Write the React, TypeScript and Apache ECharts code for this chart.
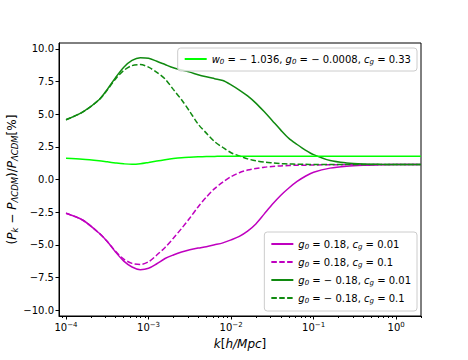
import React, { useEffect, useRef } from "react";
import * as echarts from "echarts";

// log10(k) sample positions
const logK = [-4, -3.8, -3.6, -3.5, -3.4, -3.3, -3.2, -3.1, -3.0, -2.9, -2.8, -2.7, -2.6, -2.5, -2.4, -2.3, -2.2, -2.1, -2.0, -1.9, -1.8, -1.7, -1.6, -1.5, -1.4, -1.3, -1.2, -1.1, -1.0, -0.8, -0.6, -0.4, -0.2, 0, 0.3];

const w0Line = [1.62, 1.55, 1.43, 1.35, 1.27, 1.2, 1.16, 1.2, 1.3, 1.41, 1.51, 1.6, 1.67, 1.71, 1.74, 1.76, 1.77, 1.78, 1.78, 1.78, 1.78, 1.78, 1.78, 1.78, 1.78, 1.78, 1.78, 1.78, 1.78, 1.78, 1.78, 1.78, 1.78, 1.78, 1.78];
const gPos001 = [-2.59, -3.1, -4.1, -4.75, -5.55, -6.25, -6.7, -6.9, -6.8, -6.45, -6.05, -5.78, -5.55, -5.38, -5.25, -5.14, -5.0, -4.85, -4.62, -4.35, -3.95, -3.4, -2.65, -1.9, -1.22, -0.65, -0.15, 0.25, 0.55, 0.87, 1.02, 1.09, 1.12, 1.14, 1.14];
const gPos01 = [-2.59, -3.1, -4.1, -4.75, -5.5, -6.1, -6.42, -6.5, -6.3, -5.78, -5.2, -4.5, -3.75, -2.95, -2.1, -1.35, -0.7, -0.2, 0.22, 0.52, 0.72, 0.84, 0.94, 1.0, 1.04, 1.07, 1.09, 1.1, 1.11, 1.13, 1.14, 1.14, 1.14, 1.14, 1.14];
const gNeg001 = [4.57, 5.15, 6.1, 6.9, 7.8, 8.6, 9.12, 9.32, 9.28, 9.05, 8.8, 8.55, 8.38, 8.22, 8.02, 7.86, 7.72, 7.58, 7.25, 6.85, 6.4, 5.85, 5.2, 4.5, 3.8, 3.15, 2.68, 2.25, 1.9, 1.45, 1.27, 1.19, 1.16, 1.15, 1.14];
const gNeg01 = [4.57, 5.15, 6.1, 6.85, 7.7, 8.35, 8.72, 8.8, 8.6, 8.2, 7.7, 6.9, 6.1, 5.2, 4.25, 3.55, 2.9, 2.45, 2.05, 1.8, 1.58, 1.43, 1.33, 1.27, 1.22, 1.19, 1.17, 1.16, 1.15, 1.14, 1.14, 1.14, 1.14, 1.14, 1.14];

const yTicks = [-10, -7.5, -5, -2.5, 0, 2.5, 5, 7.5, 10];
const xMajorTicks = [1e-4, 1e-3, 1e-2, 1e-1, 1];
const xMinorTicks: number[] = [];
for (let e = -4; e <= 0; e++) {
  for (let m = 2; m <= 9; m++) {
    const v = m * Math.pow(10, e);
    if (v <= 2) xMinorTicks.push(v);
  }
}
xMinorTicks.push(9e-5);

const legendText: Record<string, string> = {
  w0: "{i|w}{sub|0}{t| = − 1.036, }{i|g}{sub|0}{t| = − 0.0008, }{i|c}{sub|g}{t| = 0.33}",
  gp001: "{i|g}{sub|0}{t| = 0.18, }{i|c}{sub|g}{t| = 0.01}",
  gp01: "{i|g}{sub|0}{t| = 0.18, }{i|c}{sub|g}{t| = 0.1}",
  gn001: "{i|g}{sub|0}{t| = − 0.18, }{i|c}{sub|g}{t| = 0.01}",
  gn01: "{i|g}{sub|0}{t| = − 0.18, }{i|c}{sub|g}{t| = 0.1}",
};

const FONT = "DejaVu Sans";
const MAGENTA = "#bf00bf";
const GREEN = "#108a10";
const LIME = "#00ff00";

const legendRich = {
  t: { fontFamily: FONT, fontSize: 10, color: "#000", lineHeight: 12 },
  i: { fontFamily: FONT, fontSize: 10, fontStyle: "italic", color: "#000", lineHeight: 12 },
  sub: { fontFamily: FONT, fontSize: 7, fontStyle: "italic", color: "#000", lineHeight: 7, verticalAlign: "bottom" },
};

function mk(name: string, vals: number[], color: string, dashed: boolean) {
  return {
    name,
    type: "line",
    xAxisIndex: 0,
    yAxisIndex: 0,
    showSymbol: false,
    symbol: "none",
    smooth: 0.3,
    data: logK.map((lk, i) => [Math.pow(10, lk), vals[i]]),
    lineStyle: { color, width: 1.5, type: dashed ? [5.5, 2.4] : "solid" },
    itemStyle: { color },
  };
}

export default function App() {
  const ref = useRef<HTMLDivElement>(null);
  useEffect(() => {
    if (!ref.current) return;
    const chart = echarts.init(ref.current, null, { renderer: "svg" });
    const xMin = Math.pow(10, -4.085);
    const xMax = 2;
    const legendBase = {
      orient: "vertical",
      align: "left",
      itemWidth: 22,
      itemHeight: 10,
      itemGap: 7,
      itemStyle: { opacity: 0 },
      backgroundColor: "rgba(255,255,255,0.8)",
      borderColor: "#cccccc",
      borderWidth: 1,
      borderRadius: 3,
      formatter: (n: string) => legendText[n] || n,
      textStyle: { fontFamily: FONT, fontSize: 10, color: "#000", rich: legendRich },
    };
    chart.setOption({
      animation: false,
      backgroundColor: "#fff",
      grid: {
        left: 59,
        right: 47,
        top: 43,
        bottom: 44,
        show: true,
        borderColor: "#000",
        borderWidth: 1,
        backgroundColor: "transparent",
        outerBoundsMode: "none",
      },
      legend: [
        { ...legendBase, data: ["w0"], right: 51, top: 48, padding: [6, 6, 6, 6] },
        { ...legendBase, data: ["gp001", "gp01", "gn001", "gn01"], right: 51, bottom: 49, padding: [7, 6, 7, 6] },
      ],
      xAxis: [
        {
          type: "log",
          logBase: 10,
          min: xMin,
          max: xMax,
          name: "{i|k}{t|[}{i|h/Mpc}{t|]}",
          nameLocation: "middle",
          nameGap: 22,
          nameMoveOverlap: false,
          nameTextStyle: {
            rich: {
              t: { fontFamily: FONT, fontSize: 12, color: "#000" },
              i: { fontFamily: FONT, fontSize: 12, fontStyle: "italic", color: "#000" },
            },
          },
          axisLine: { show: true, onZero: false, lineStyle: { color: "#000", width: 1 } },
          axisTick: { show: true, length: 3.5, lineStyle: { color: "#000" }, customValues: xMajorTicks },
          axisLabel: {
            customValues: xMajorTicks,
            margin: 5,
            formatter: (v: number) => {
              const e = Math.round(Math.log10(v));
              return "{b|10}{s|" + (e < 0 ? "−" + Math.abs(e) : String(e)) + "}";
            },
            rich: {
              b: { fontFamily: FONT, fontSize: 10, color: "#000", lineHeight: 13 },
              s: { fontFamily: FONT, fontSize: 7, color: "#000", lineHeight: 7, verticalAlign: "top" },
            },
          },
          splitLine: { show: false },
        },
        {
          type: "log",
          logBase: 10,
          min: xMin,
          max: xMax,
          position: "bottom",
          axisLine: { show: false, onZero: false },
          axisTick: { show: true, length: 2, lineStyle: { color: "#000" }, customValues: xMinorTicks },
          axisLabel: { show: false },
          splitLine: { show: false },
        },
      ],
      yAxis: {
        type: "value",
        min: -10.45,
        max: 10.45,
        name: "{t|(}{i|P}{sub|k}{t| − }{i|P}{sub|ΛCDM}{t|)/}{i|P}{sub|ΛCDM}{t|[%]}",
        nameLocation: "middle",
        nameRotate: 90,
        nameGap: 40,
        nameMoveOverlap: false,
        nameTextStyle: {
          rich: {
            t: { fontFamily: FONT, fontSize: 12, color: "#000", lineHeight: 15 },
            i: { fontFamily: FONT, fontSize: 12, fontStyle: "italic", color: "#000", lineHeight: 15 },
            sub: { fontFamily: FONT, fontSize: 8.5, fontStyle: "italic", color: "#000", lineHeight: 9, verticalAlign: "bottom" },
          },
        },
        axisLine: { show: true, onZero: false, lineStyle: { color: "#000", width: 1 } },
        axisTick: { show: true, length: 3.5, lineStyle: { color: "#000" }, customValues: yTicks },
        axisLabel: {
          customValues: yTicks,
          margin: 5,
          fontFamily: FONT,
          fontSize: 10,
          color: "#000",
          formatter: (v: number) => (v < 0 ? "−" : "") + Math.abs(v).toFixed(1),
        },
        splitLine: { show: false },
      },
      series: [
        mk("gp001", gPos001, MAGENTA, false),
        mk("gp01", gPos01, MAGENTA, true),
        mk("gn001", gNeg001, GREEN, false),
        mk("gn01", gNeg01, GREEN, true),
        mk("w0", w0Line, LIME, false),
      ],
    });
    return () => chart.dispose();
  }, []);
  return (
    <div
      ref={ref}
      style={{ position: "fixed", left: 0, top: 0, width: 468, height: 360, background: "#fff" }}
    />
  );
}
